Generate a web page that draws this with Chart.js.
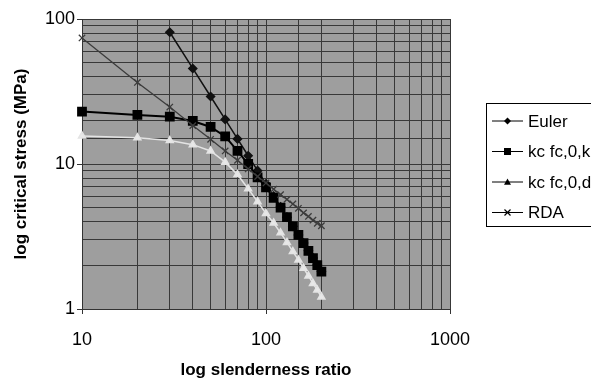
<!DOCTYPE html>
<html>
<head>
<meta charset="utf-8">
<script src="https://cdn.jsdelivr.net/npm/chart.js@4/dist/chart.umd.min.js"></script>
<style>
  body { margin: 0; background: #fff; }
  canvas { display: block; }
</style>
</head>
<body>
<canvas id="myChart" width="591" height="386"></canvas>
<script>
'use strict';
// slenderness ratio (x) and critical stress in MPa (y)
let slenderness = [10, 20, 30, 40, 50, 60, 70, 80, 90, 100, 110, 120, 130, 140, 150, 160, 170, 180, 190, 200];
let euler = [null, null, 81, 45.6, 29.2, 20.3, 14.9, 11.4, 9.0, 7.3, 6.0, 5.07, 4.3, 3.72, 3.24, 2.85, 2.52, 2.25, 2.02, 1.82];
let kcFc0k = [23, 21.8, 21.2, 19.8, 18.0, 15.5, 12.3, 10.0, 8.1, 6.9, 5.85, 5.0, 4.3, 3.72, 3.25, 2.85, 2.52, 2.24, 2.01, 1.81];
let kcFc0d = [15.6, 15.2, 14.5, 13.6, 12.3, 10.3, 8.45, 6.75, 5.5, 4.55, 3.92, 3.35, 2.88, 2.49, 2.18, 1.91, 1.69, 1.5, 1.35, 1.21];
let rda = [74, 36.5, 24.7, 18.4, 14.8, 12.3, 10.6, 9.25, 8.2, 7.4, 6.7, 6.15, 5.7, 5.3, 4.95, 4.6, 4.35, 4.1, 3.9, 3.75];

let seriesNames = ['Euler', 'kc fc,0,k', 'kc fc,0,d', 'RDA'];
let xTickLabels = [10, 100, 1000];
let yTickLabels = [1, 10, 100];

function toPoints(values) {
  let pts = [];
  for (let i = 0; i < slenderness.length; i++) {
    if (values[i] !== null) pts.push({ x: slenderness[i], y: values[i] });
  }
  return pts;
}

// grey plot background
const plotBackground = {
  id: 'plotBackground',
  beforeDraw(chart) {
    const a = chart.chartArea;
    const ctx = chart.ctx;
    ctx.save();
    ctx.fillStyle = '#9e9e9e';
    ctx.fillRect(a.left, a.top, a.right - a.left, a.bottom - a.top);
    ctx.restore();
  }
};

function drawMarker(ctx, style, x, y, r, color) {
  ctx.save();
  ctx.fillStyle = color;
  ctx.strokeStyle = color;
  ctx.lineWidth = 1.2;
  ctx.beginPath();
  if (style === 'rectRot') {
    ctx.moveTo(x, y - r); ctx.lineTo(x + r, y); ctx.lineTo(x, y + r); ctx.lineTo(x - r, y);
    ctx.closePath(); ctx.fill();
  } else if (style === 'rect') {
    ctx.rect(x - r, y - r, 2 * r, 2 * r); ctx.fill();
  } else if (style === 'triangle') {
    ctx.moveTo(x, y - r); ctx.lineTo(x + r, y + r * 0.8); ctx.lineTo(x - r, y + r * 0.8);
    ctx.closePath(); ctx.fill();
  } else {
    ctx.moveTo(x - r, y - r); ctx.lineTo(x + r, y + r);
    ctx.moveTo(x + r, y - r); ctx.lineTo(x - r, y + r); ctx.stroke();
  }
  ctx.restore();
}

// boxed legend on the right, partly cut by the canvas edge like the original
const boxLegend = {
  id: 'boxLegend',
  afterDraw(chart) {
    const ctx = chart.ctx;
    const styles = [['rectRot', 3.5], ['rect', 3.5], ['triangle', 3.5], ['cross', 3]];
    ctx.save();
    ctx.fillStyle = '#fff';
    ctx.fillRect(486, 103, 140, 123);
    ctx.strokeStyle = '#000';
    ctx.lineWidth = 1;
    ctx.strokeRect(486.5, 103.5, 140, 123);
    ctx.font = '17px "Liberation Sans", Arial, sans-serif';
    ctx.textBaseline = 'middle';
    for (let i = 0; i < seriesNames.length; i++) {
      const y = 121 + i * 30.5;
      ctx.strokeStyle = '#000';
      ctx.lineWidth = 1;
      ctx.beginPath();
      ctx.moveTo(492, y);
      ctx.lineTo(523, y);
      ctx.stroke();
      drawMarker(ctx, styles[i][0], 507.5, y, styles[i][1], '#000');
      ctx.fillStyle = '#000';
      ctx.fillText(seriesNames[i], 528, y + 1);
    }
    ctx.restore();
  }
};

const ctx = document.getElementById('myChart').getContext('2d');
const myChart = new Chart(ctx, {
  type: 'line',
  data: {
    datasets: [{
      label: seriesNames[0],
      data: toPoints(euler),
      borderColor: '#111',
      backgroundColor: '#111',
      borderWidth: 1.5,
      pointStyle: 'rectRot',
      pointRadius: 4,
      order: 3
    }, {
      label: seriesNames[1],
      data: toPoints(kcFc0k),
      borderColor: '#000',
      backgroundColor: '#000',
      borderWidth: 2,
      pointStyle: 'rect',
      pointRadius: 5.5,
      order: 2
    }, {
      label: seriesNames[2],
      data: toPoints(kcFc0d),
      borderColor: '#e4e4e4',
      backgroundColor: '#e8e8e8',
      borderWidth: 1.5,
      pointStyle: 'triangle',
      pointRadius: 4,
      order: 1
    }, {
      label: seriesNames[3],
      data: toPoints(rda),
      borderColor: '#3c3c3c',
      backgroundColor: '#3c3c3c',
      borderWidth: 1.3,
      pointStyle: 'crossRot',
      pointRadius: 4.5,
      pointBorderWidth: 1.3,
      order: 0
    }]
  },
  options: {
    responsive: false,
    animation: false,
    clip: false,
    layout: { padding: { top: 19, right: 141, left: 0, bottom: 0 } },
    plugins: {
      legend: { display: false },
      tooltip: { enabled: false }
    },
    scales: {
      x: {
        type: 'logarithmic',
        min: 10,
        max: 1000,
        afterFit(scale) { scale.height = 77; },
        grid: {
          color: '#383838',
          lineWidth: 1,
          tickLength: 5,
          tickColor: (c) => (c.tick && xTickLabels.includes(c.tick.value)) ? '#333' : 'rgba(0,0,0,0)'
        },
        border: { color: '#333' },
        ticks: {
          autoSkip: false,
          maxRotation: 0,
          padding: 15,
          color: '#000',
          font: { size: 18, family: '"Liberation Sans", Arial, sans-serif' },
          callback: (v) => xTickLabels.includes(v) ? String(v) : ''
        },
        title: {
          display: true,
          text: 'log slenderness ratio',
          color: '#000',
          font: { size: 17, weight: 'bold', family: '"Liberation Sans", Arial, sans-serif' },
          padding: { top: 0, bottom: 5 }
        }
      },
      y: {
        type: 'logarithmic',
        min: 1,
        max: 100,
        afterFit(scale) { scale.width = 82; },
        grid: {
          color: '#383838',
          lineWidth: 1,
          tickLength: 5,
          tickColor: (c) => (c.tick && yTickLabels.includes(c.tick.value)) ? '#333' : 'rgba(0,0,0,0)'
        },
        border: { color: '#333' },
        ticks: {
          autoSkip: false,
          padding: 2,
          color: '#000',
          font: { size: 18, family: '"Liberation Sans", Arial, sans-serif' },
          callback: (v) => yTickLabels.includes(v) ? String(v) : ''
        },
        title: {
          display: true,
          text: 'log critical stress (MPa)',
          color: '#000',
          font: { size: 17, weight: 'bold', family: '"Liberation Sans", Arial, sans-serif' },
          padding: { top: 11, bottom: 0 }
        }
      }
    }
  },
  plugins: [plotBackground, boxLegend]
});
</script>
</body>
</html>
